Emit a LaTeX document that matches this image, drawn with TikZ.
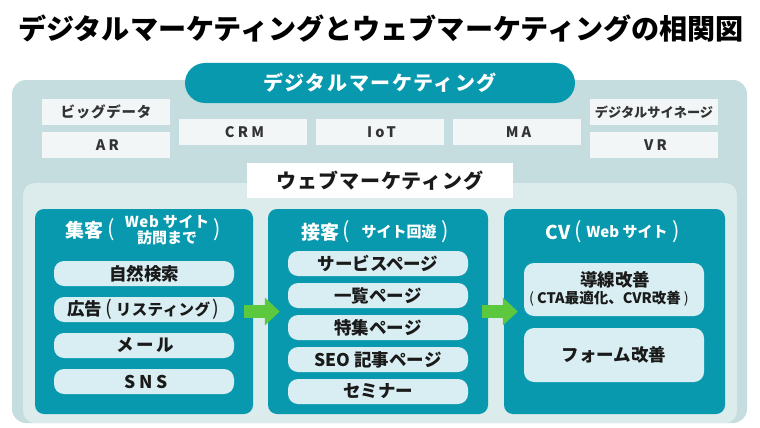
\documentclass[tikz,border=0pt]{standalone}
\usepackage{fontspec}
\setmainfont{Noto Sans CJK JP}
\newfontfamily\jp{Noto Sans CJK JP}
\usetikzlibrary{arrows.meta}
\definecolor{outerc}{HTML}{C5DDDE}
\definecolor{innerc}{HTML}{DCEBEB}
\definecolor{tealc}{HTML}{0899AE}
\definecolor{itemc}{HTML}{D8EEF2}
\definecolor{palec}{HTML}{F2F6F7}
\definecolor{greenc}{HTML}{5CC83E}
\definecolor{inkc}{HTML}{1A1A1A}
\definecolor{grayink}{HTML}{333333}
\newcommand{\fs}[1]{\fontsize{#1}{#1}\selectfont}
\newcommand{\spaced}[1]{\addfontfeature{LetterSpace=22}#1\kern-3pt}
\tikzset{
  outerbox/.style={fill=outerc, rounded corners=14pt},
  innerbox/.style={fill=innerc, rounded corners=12pt},
  pillbox/.style={fill=tealc, rounded corners=20pt, inner sep=0pt, minimum width=390pt, minimum height=40pt, text=white, font=\jp\bfseries\fs{20}\addfontfeature{LetterSpace=8}},
  webtag/.style={fill=white, inner sep=0pt, minimum width=266pt, minimum height=35pt, text=inkc, font=\jp\bfseries\fs{20}\addfontfeature{LetterSpace=5}},
  smallbox/.style={fill=palec, inner sep=0pt, minimum width=128pt, minimum height=26pt, text=grayink, font=\jp\bfseries\fs{14.5}},
  darkbox/.style={fill=tealc, rounded corners=9pt, inner sep=0pt, minimum height=205pt},
  itembox/.style={fill=itemc, rounded corners=10pt, inner sep=0pt, minimum width=180pt, minimum height=25pt, text=inkc, font=\jp\bfseries\fs{17.5}},
  boxtitle/.style={text=white, inner sep=0pt, font=\jp\bfseries\fs{19}},
  boxsub/.style={text=white, inner sep=0pt, font=\jp\bfseries\fs{15}},
  paren/.style={text=white, inner sep=0pt, font=\jp\fs{22}},
  flow/.style={line width=13pt, draw=greenc, -{Triangle[length=15pt,width=27pt]}}
}
\begin{document}
\begin{tikzpicture}[x=1pt,y=-1pt]
\useasboundingbox (0,0) rectangle (760,428);
% title
\node[inner sep=0pt, text=black, font=\jp\bfseries\fs{28.1}] (title) at (381,29) {デジタルマーケティングとウェブマーケティングの相関図};
% outer and inner areas
\path[outerbox] (12,80) rectangle (747,423);
\path[innerbox] (23,183) rectangle (737,423);
% top pill
\node[pillbox] (digital) at (380,83) {デジタルマーケティング};
% small boxes
\node[smallbox] (bigdata) at (106,112) {\addfontfeature{LetterSpace=5}ビッグデータ};
\node[smallbox] (ar) at (106,145) {\spaced{AR}};
\node[smallbox] (crm) at (243,132) {\spaced{CRM}};
\node[smallbox] (iot) at (380,132) {\spaced{IoT}};
\node[smallbox] (ma) at (517,132) {\spaced{MA}};
\node[smallbox] (signage) at (654,112) {\fs{13.2}デジタルサイネージ};
\node[smallbox] (vr) at (654,145) {\spaced{VR}};
% web marketing tag
\node[webtag] (web) at (380,180.5) {ウェブマーケティング};
% three dark boxes
\node[darkbox, minimum width=218pt] (b1) at (144,311.5) {};
\node[darkbox, minimum width=220pt] (b2) at (378,311.5) {};
\node[darkbox, minimum width=221pt] (b3) at (614.5,311.5) {};
% box 1 title
\node[boxtitle] (t1) at (84,230) {集客};
\node[paren] (t1l) at (111,230) {(};
\node[boxsub] (t1a) at (167,222) {\addfontfeature{LetterSpace=4}Web サイト};
\node[boxsub] (t1b) at (167,238) {訪問まで};
\node[paren] (t1r) at (217,230) {)};
% box 1 items
\node[itembox] (i11) at (144,273.5) {自然検索};
\node[itembox] (i12) at (144,309.5) {\kern-2pt広告\hspace{3pt}{\fs{20}\mdseries(}\hspace{4pt}{\fs{15.5}\addfontfeature{LetterSpace=3}リスティング}\hspace{2pt}{\fs{20}\mdseries)}};
\node[itembox] (i13) at (144,345.5) {\addfontfeature{LetterSpace=15}メール\kern-2.5pt};
\node[itembox] (i14) at (144,381.5) {\addfontfeature{LetterSpace=22}SNS\kern-3.5pt};
% box 2 title
\node[boxtitle] (t2) at (320,232) {接客};
\node[paren] (t2l) at (346,232) {(};
\node[boxsub] (t2a) at (399,232) {サイト回遊};
\node[paren] (t2r) at (445,232) {)};
% box 2 items
\node[itembox] (i21) at (378,263.5) {サービスページ};
\node[itembox] (i22) at (378,295.5) {一覧ページ};
\node[itembox] (i23) at (378,327.5) {特集ページ};
\node[itembox] (i24) at (378,359.5) {SEO 記事ページ};
\node[itembox] (i25) at (378,391.5) {セミナー};
% box 3 title
\node[boxtitle] (t3) at (558,232) {\addfontfeature{LetterSpace=5}CV};
\node[paren] (t3l) at (578,232) {(};
\node[boxsub] (t3a) at (627,232) {Web サイト};
\node[paren] (t3r) at (676,232) {)};
% box 3 items
\node[itembox, minimum height=53pt] (i31) at (614,289.5) {};
\node[inner sep=0pt, text=inkc, font=\jp\bfseries\fs{17.5}] (i31a) at (615,280) {導線改善};
\node[inner sep=0pt, text=inkc, font=\jp\bfseries\fs{14.5}] (i31b) at (609,299) {{\mdseries(}\hspace{3pt}CTA最適化、CVR改善\hspace{3pt}{\mdseries)}};
\node[itembox, minimum height=54pt] (i32) at (614,355) {フォーム改善};
% arrows
\draw[flow] ([xshift=-9pt]b1.east) -- ([xshift=12pt]b2.west);
\draw[flow] ([xshift=-6pt]b2.east) -- ([xshift=14pt]b3.west);
\end{tikzpicture}
\end{document}
